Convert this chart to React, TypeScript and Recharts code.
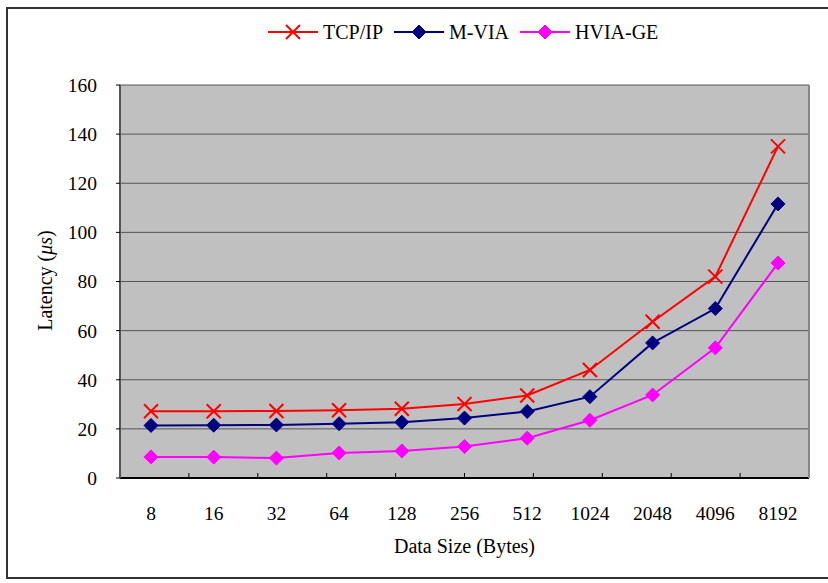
import { LineChart, Line, XAxis, YAxis, CartesianGrid, Label } from 'recharts';

const sizes = ['8', '16', '32', '64', '128', '256', '512', '1024', '2048', '4096', '8192'];
const tcpIp = [27.2, 27.2, 27.3, 27.6, 28.2, 30.1, 33.6, 44, 63.6, 82, 135];
const mVia = [21.4, 21.5, 21.6, 22.1, 22.7, 24.4, 27.1, 33.1, 55, 69, 111.6];
const hviaGe = [8.6, 8.5, 8.1, 10.2, 11, 12.8, 16.2, 23.5, 33.8, 53, 87.5];
const yTicks = [0, 20, 40, 60, 80, 100, 120, 140, 160];
const boundaryTicks = [1, 2, 3, 4, 5, 6, 7, 8, 9, 10];

const chartData = sizes.map((s, i) => ({
    size: s,
    tcp: tcpIp[i],
    mvia: mVia[i],
    hvia: hviaGe[i],
}));

const FONT = '"Liberation Serif", "Times New Roman", serif';

const CrossDot = (props: any) => {
    const { cx, cy, stroke } = props;
    if (cx == null || cy == null) return null;
    const r = 7;
    return (
        <g>
            <line x1={cx - r} y1={cy - r} x2={cx + r} y2={cy + r} stroke={stroke} strokeWidth={2} />
            <line x1={cx - r} y1={cy + r} x2={cx + r} y2={cy - r} stroke={stroke} strokeWidth={2} />
        </g>
    );
};

const DiamondDot = (props: any) => {
    const { cx, cy, stroke } = props;
    if (cx == null || cy == null) return null;
    const r = 7;
    return (
        <polygon
            points={`${cx},${cy - r} ${cx + r},${cy} ${cx},${cy + r} ${cx - r},${cy}`}
            fill={stroke}
            stroke={stroke}
        />
    );
};

const YTitle = (props: any) => {
    const { viewBox } = props;
    const cy = viewBox.y + viewBox.height / 2 - 1;
    const x = 52;
    return (
        <text
            x={x}
            y={cy}
            transform={`rotate(-90, ${x}, ${cy})`}
            textAnchor="middle"
            fontFamily={FONT}
            fontSize={20}
            fill="#000"
        >
            Latency (<tspan fontStyle="italic">μs</tspan>)
        </text>
    );
};

const legendItems = [
    { name: 'TCP/IP', color: '#FF0000', marker: 'cross', x: 268 },
    { name: 'M-VIA', color: '#000080', marker: 'diamond', x: 394 },
    { name: 'HVIA-GE', color: '#FF00FF', marker: 'diamond', x: 520 },
];

const ChartLegend = () => (
    <svg width={828} height={60} style={{ position: 'absolute', left: 0, top: 0 }}>
        {legendItems.map(item => {
            const mx = item.x + 25;
            const y = 32;
            return (
                <g key={item.name}>
                    <line x1={item.x} y1={y} x2={item.x + 50} y2={y} stroke={item.color} strokeWidth={2} />
                    {item.marker === 'cross' ? (
                        <CrossDot cx={mx} cy={y} stroke={item.color} />
                    ) : (
                        <DiamondDot cx={mx} cy={y} stroke={item.color} />
                    )}
                    <text x={item.x + 55} y={y + 7} fontFamily={FONT} fontSize={20} fill="#000">
                        {item.name}
                    </text>
                </g>
            );
        })}
    </svg>
);

const App = () => {
    return (
        <div style={{ position: 'absolute', left: 0, top: 0, width: 828, height: 583, background: '#fff' }}>
            <div
                style={{
                    position: 'absolute',
                    left: 6,
                    top: 7,
                    width: 830,
                    height: 572,
                    border: '2px solid #333',
                    boxSizing: 'border-box',
                }}
            />
            <LineChart
                width={828}
                height={583}
                data={chartData}
                margin={{ top: 85, right: 19, left: 0, bottom: 0 }}
                style={{ position: 'absolute', left: 0, top: 0, fontFamily: FONT }}
            >
                <CartesianGrid vertical={false} stroke="#555" fill="#C0C0C0" />
                <XAxis
                    dataKey="size"
                    height={105}
                    padding={{ left: 31, right: 31 }}
                    tickLine={false}
                    axisLine={{ stroke: '#000', strokeWidth: 2 }}
                    tick={{ fill: '#000', fontSize: 19.5, fontFamily: FONT }}
                    tickMargin={22}
                >
                    <Label
                        value="Data Size (Bytes)"
                        position="insideBottom"
                        offset={30}
                        style={{ fill: '#000', fontSize: 20, fontFamily: FONT }}
                    />
                </XAxis>
                <XAxis
                    xAxisId="bounds"
                    type="number"
                    domain={[0, 11]}
                    allowDataOverflow
                    ticks={boundaryTicks}
                    mirror
                    tickSize={5}
                    tick={() => <g />}
                    axisLine={false}
                    tickLine={{ stroke: '#000' }}
                />
                <YAxis
                    width={120}
                    domain={[0, 160]}
                    ticks={yTicks}
                    tickSize={4}
                    tickMargin={19}
                    tickLine={{ stroke: '#000' }}
                    axisLine={{ stroke: '#555', strokeWidth: 2 }}
                    tick={{ fill: '#000', fontSize: 19.5, fontFamily: FONT }}
                >
                    <Label content={<YTitle />} />
                </YAxis>
                <YAxis
                    yAxisId="right"
                    orientation="right"
                    domain={[0, 160]}
                    mirror
                    tick={false}
                    tickLine={false}
                    axisLine={{ stroke: '#888', strokeWidth: 2 }}
                />
                <Line
                    dataKey="tcp"
                    name="TCP/IP"
                    stroke="#FF0000"
                    strokeWidth={2}
                    dot={<CrossDot />}
                    activeDot={false}
                    isAnimationActive={false}
                />
                <Line
                    dataKey="mvia"
                    name="M-VIA"
                    stroke="#000080"
                    strokeWidth={2}
                    dot={<DiamondDot />}
                    activeDot={false}
                    isAnimationActive={false}
                />
                <Line
                    dataKey="hvia"
                    name="HVIA-GE"
                    stroke="#FF00FF"
                    strokeWidth={2}
                    dot={<DiamondDot />}
                    activeDot={false}
                    isAnimationActive={false}
                />
            </LineChart>
            <ChartLegend />
        </div>
    );
};

export default App;
